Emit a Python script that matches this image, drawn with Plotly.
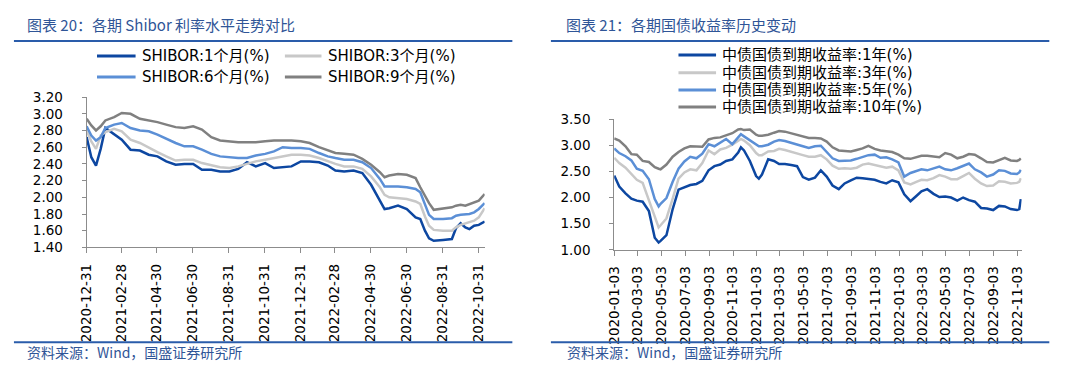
import plotly.graph_objects as go

# ---------------- Left panel data: SHIBOR ----------------
shibor_dates = ["2020-12-31","2021-01-08","2021-01-16","2021-01-24","2021-02-01","2021-02-16","2021-03-01","2021-03-16",
    "2021-04-01","2021-04-16","2021-05-01","2021-05-16","2021-06-01","2021-06-16","2021-07-01","2021-07-16","2021-08-01",
    "2021-08-16","2021-09-01","2021-09-16","2021-10-01","2021-10-16","2021-11-01","2021-11-16","2021-12-01","2021-12-16",
    "2022-01-01","2022-01-16","2022-02-01","2022-02-16","2022-03-01","2022-03-16","2022-04-01","2022-04-16","2022-05-01",
    "2022-05-16","2022-05-24","2022-06-01","2022-06-16","2022-07-01","2022-07-16","2022-07-24","2022-08-01","2022-08-08",
    "2022-08-16","2022-09-01","2022-09-16","2022-09-23","2022-10-01","2022-10-09","2022-10-16","2022-10-24","2022-11-01",
    "2022-11-11"]
shibor_1m = [2.72,2.48,2.38,2.58,2.83,2.75,2.69,2.57,2.56,2.51,2.49,2.43,2.39,2.40,2.40,2.33,2.33,2.31,2.31,2.34,2.42,2.37,
    2.41,2.35,2.36,2.37,2.43,2.43,2.42,2.38,2.32,2.31,2.32,2.29,2.15,1.95,1.86,1.87,1.90,1.86,1.76,1.74,1.60,1.51,1.48,1.49,
    1.50,1.63,1.69,1.64,1.62,1.66,1.67,1.71]
shibor_3m = [2.80,2.67,2.58,2.74,2.78,2.82,2.79,2.69,2.65,2.59,2.54,2.49,2.44,2.45,2.45,2.41,2.38,2.36,2.35,2.37,2.40,2.43,
    2.45,2.47,2.49,2.51,2.51,2.50,2.47,2.43,2.40,2.37,2.37,2.34,2.25,2.12,2.03,2.00,1.99,1.98,1.95,1.92,1.77,1.66,1.61,1.60,
    1.60,1.64,1.67,1.69,1.70,1.72,1.76,1.87]
shibor_6m = [2.85,2.74,2.68,2.72,2.83,2.87,2.89,2.83,2.80,2.79,2.75,2.70,2.65,2.61,2.61,2.57,2.52,2.49,2.48,2.47,2.47,2.50,
    2.52,2.55,2.60,2.59,2.59,2.58,2.53,2.49,2.47,2.45,2.45,2.42,2.35,2.22,2.13,2.13,2.13,2.12,2.10,2.06,1.91,1.79,1.74,1.74,
    1.75,1.78,1.79,1.80,1.80,1.82,1.86,1.93]
shibor_9m = [2.94,2.86,2.80,2.85,2.92,2.96,3.01,3.00,2.94,2.92,2.90,2.87,2.84,2.83,2.85,2.81,2.72,2.68,2.67,2.66,2.66,2.66,
    2.67,2.68,2.68,2.68,2.67,2.65,2.60,2.56,2.53,2.52,2.51,2.46,2.39,2.30,2.24,2.26,2.28,2.27,2.23,2.12,2.01,1.93,1.85,1.87,
    1.88,1.90,1.91,1.90,1.92,1.94,1.96,2.04]
shibor_names = ["SHIBOR:1个月(%)", "SHIBOR:3个月(%)", "SHIBOR:6个月(%)", "SHIBOR:9个月(%)"]
shibor_ticks = ["2020-12-31","2021-02-28","2021-04-30","2021-06-30","2021-08-31","2021-10-31","2021-12-31",
    "2022-02-28","2022-04-30","2022-06-30","2022-08-31","2022-10-31"]

# ---------------- Right panel data: government bond yields ----------------
bond_dates = ["2020-01-03","2020-01-16","2020-02-01","2020-02-16","2020-03-01","2020-03-16","2020-04-01","2020-04-16",
    "2020-04-26","2020-05-01","2020-05-16","2020-06-01","2020-06-16","2020-07-01","2020-07-16","2020-08-01","2020-08-16",
    "2020-09-01","2020-09-16","2020-10-01","2020-10-16","2020-11-01","2020-11-16","2020-11-23","2020-12-01","2020-12-16",
    "2021-01-01","2021-01-08","2021-01-16","2021-02-01","2021-02-16","2021-03-01","2021-03-16","2021-04-01","2021-04-16",
    "2021-05-01","2021-05-16","2021-06-01","2021-06-16","2021-07-01","2021-07-16","2021-08-01","2021-08-16","2021-09-01",
    "2021-09-16","2021-10-01","2021-10-16","2021-11-01","2021-11-16","2021-12-01","2021-12-16","2022-01-01","2022-01-16",
    "2022-02-01","2022-02-16","2022-03-01","2022-03-16","2022-04-01","2022-04-16","2022-05-01","2022-05-16","2022-06-01",
    "2022-06-16","2022-07-01","2022-07-16","2022-08-01","2022-08-16","2022-09-01","2022-09-16","2022-10-01","2022-10-16",
    "2022-11-01","2022-11-07","2022-11-11"]
bond_1y = [2.42,2.21,2.08,1.98,1.94,1.92,1.74,1.23,1.14,1.17,1.28,1.78,2.15,2.20,2.24,2.26,2.32,2.52,2.60,2.63,2.70,2.73,
    2.86,2.96,2.90,2.70,
    2.41,2.36,2.44,2.73,2.70,2.64,2.64,2.62,2.60,2.39,2.34,2.38,2.52,2.40,2.23,2.16,2.27,2.33,2.38,2.37,2.36,2.34,2.30,
    2.27,2.33,
    2.29,2.06,1.93,2.03,2.12,2.16,2.07,2.01,2.02,2.00,1.94,2.00,1.95,1.92,1.80,1.79,1.76,1.84,1.83,1.78,1.76,1.78,1.97]
bond_3y = [2.76,2.66,2.57,2.46,2.34,2.28,1.96,1.64,1.43,1.47,1.60,1.98,2.36,2.48,2.54,2.52,2.66,2.90,2.83,2.92,2.95,3.01,
    3.08,3.12,3.09,3.00,
    2.85,2.81,2.81,2.88,2.89,2.93,2.91,2.88,2.85,2.81,2.78,2.78,2.81,2.73,2.61,2.55,2.56,2.55,2.57,2.63,2.65,2.62,2.60,
    2.57,2.59,
    2.52,2.29,2.25,2.30,2.34,2.33,2.37,2.43,2.40,2.35,2.35,2.41,2.47,2.36,2.27,2.22,2.23,2.31,2.30,2.27,2.28,2.30,2.37]
bond_5y = [2.94,2.85,2.79,2.71,2.55,2.51,2.35,1.97,1.83,1.88,1.99,2.30,2.55,2.69,2.78,2.75,2.84,3.02,2.98,3.05,3.12,3.02,
    3.14,3.21,3.17,3.10,
    3.01,2.98,2.98,3.01,3.07,3.10,3.08,3.05,3.02,2.98,2.95,2.98,2.99,2.88,2.75,2.70,2.71,2.71,2.74,2.78,2.81,2.82,2.76,
    2.77,2.73,
    2.67,2.40,2.47,2.51,2.54,2.52,2.55,2.59,2.54,2.52,2.56,2.61,2.65,2.54,2.48,2.40,2.44,2.52,2.51,2.46,2.45,2.48,2.53]
bond_10y = [3.13,3.09,2.98,2.83,2.82,2.70,2.68,2.58,2.55,2.54,2.63,2.78,2.87,2.94,2.98,2.98,2.97,3.11,3.14,3.15,3.19,3.23,
    3.30,3.31,3.29,3.30,
    3.20,3.18,3.18,3.20,3.24,3.27,3.26,3.23,3.21,3.17,3.14,3.14,3.13,3.07,2.96,2.90,2.89,2.88,2.91,2.94,2.99,2.93,2.90,
    2.89,2.87,
    2.82,2.75,2.74,2.78,2.80,2.80,2.78,2.77,2.85,2.82,2.75,2.78,2.83,2.82,2.75,2.68,2.67,2.72,2.76,2.71,2.70,2.72,2.75]
bond_names = ["中债国债到期收益率:1年(%)", "中债国债到期收益率:3年(%)", "中债国债到期收益率:5年(%)", "中债国债到期收益率:10年(%)"]
bond_ticks = ["2020-01-03","2020-03-03","2020-05-03","2020-07-03","2020-09-03","2020-11-03","2021-01-03","2021-03-03",
    "2021-05-03","2021-07-03","2021-09-03","2021-11-03","2022-01-03","2022-03-03","2022-05-03","2022-07-03",
    "2022-09-03","2022-11-03"]

titles = ["图表 20：各期 Shibor 利率水平走势对比", "图表 21：各期国债收益率历史变动"]
source_text = "资料来源：Wind，国盛证券研究所"

# ---------------- Styling ----------------
W, H = 1080, 378
colors = ["#0d47a1", "#c8c8c8", "#5b8fd6", "#808080"]
FONT = "DejaVu Sans, Noto Sans CJK SC, sans-serif"
CJK = "Noto Sans CJK SC, DejaVu Sans, sans-serif"
BLUE_TXT = "#2f5597"
RULE = "#2a5caa"
AXIS = "#8c8c8c"

def px(x):
    return x / W

def py(y):
    return 1 - y / H

fig = go.Figure()

for name, vals, c in zip(shibor_names, [shibor_1m, shibor_3m, shibor_6m, shibor_9m], colors):
    fig.add_trace(go.Scatter(x=shibor_dates, y=vals, name=name, mode="lines",
                             line=dict(color=c, width=2.5), xaxis="x", yaxis="y", showlegend=False))
for name, vals, c in zip(bond_names, [bond_1y, bond_3y, bond_5y, bond_10y], colors):
    fig.add_trace(go.Scatter(x=bond_dates, y=vals, name=name, mode="lines",
                             line=dict(color=c, width=2.5), xaxis="x2", yaxis="y2", showlegend=False))

common_x = dict(type="date", showgrid=False, zeroline=False, showline=True, linecolor=AXIS, linewidth=1,
                ticks="outside", ticklen=5, tickcolor=AXIS, tickangle=-90, ticklabelstandoff=5,
                tickfont=dict(family=FONT, size=13.5, color="#000"))
common_y = dict(showgrid=False, zeroline=False, showline=True, linecolor=AXIS, linewidth=1,
                ticks="outside", ticklen=4, tickcolor=AXIS, tickformat=".2f", ticklabelstandoff=16,
                tickfont=dict(family=FONT, size=13.5, color="#000"))

fig.update_layout(
    width=W, height=H, margin=dict(l=0, r=0, t=0, b=0),
    paper_bgcolor="white", plot_bgcolor="white", showlegend=False,
    xaxis=dict(common_x, domain=[px(78.5), px(481)], range=["2020-12-31", "2022-11-11"],
               tickvals=shibor_ticks, ticktext=shibor_ticks, anchor="y"),
    yaxis=dict(common_y, domain=[py(250), py(93)], range=[1.4, 3.2], dtick=0.2, anchor="x"),
    xaxis2=dict(common_x, domain=[px(612), px(1024)], range=["2020-01-03", "2022-11-13"],
                tickvals=bond_ticks, ticktext=bond_ticks, anchor="y2"),
    yaxis2=dict(common_y, domain=[py(252.5), py(116)], range=[1.0, 3.5], dtick=0.5, anchor="x2"),
)

shapes = []
annotations = []
# title rules and footer rules
for x0, x1 in [(5, 509), (548, 1052)]:
    for yy in (34.5, 349):
        shapes.append(dict(type="line", xref="paper", yref="paper", x0=px(x0), x1=px(x1), y0=py(yy), y1=py(yy),
                           line=dict(color=RULE, width=2)))
# titles
for t, x in zip(titles, [16.5, 561]):
    annotations.append(dict(text=t, xref="paper", yref="paper", x=px(x), y=py(17), xanchor="left", yanchor="middle",
                            showarrow=False, font=dict(family=CJK, size=15, color=BLUE_TXT)))
# sources
for x in (16.5, 562):
    annotations.append(dict(text=source_text, xref="paper", yref="paper", x=px(x), y=py(359), xanchor="left",
                            yanchor="middle", showarrow=False, font=dict(family=CJK, size=14, color=BLUE_TXT)))

# legend, left panel (2 x 2)
left_leg = [(89, 128, 132, 50), (279, 316, 321, 50), (89, 128, 132, 72), (279, 316, 321, 72)]
for (lx0, lx1, tx, yy), name, c in zip(left_leg, shibor_names, colors):
    shapes.append(dict(type="line", xref="paper", yref="paper", x0=px(lx0), x1=px(lx1), y0=py(yy), y1=py(yy),
                       line=dict(color=c, width=3)))
    annotations.append(dict(text=name, xref="paper", yref="paper", x=px(tx), y=py(yy), xanchor="left",
                            yanchor="middle", showarrow=False, font=dict(family=FONT, size=15, color="#000")))
# legend, right panel (4 rows)
for yy, name, c in zip([49, 67.5, 85.5, 103.5], bond_names, colors):
    shapes.append(dict(type="line", xref="paper", yref="paper", x0=px(677), x1=px(715), y0=py(yy), y1=py(yy),
                       line=dict(color=c, width=3)))
    annotations.append(dict(text=name, xref="paper", yref="paper", x=px(719), y=py(yy), xanchor="left",
                            yanchor="middle", showarrow=False, font=dict(family=FONT, size=15, color="#000")))

fig.update_layout(shapes=shapes, annotations=annotations)
fig.write_html("out.html", config={"displayModeBar": False}, post_script="document.body.style.margin='0';")
